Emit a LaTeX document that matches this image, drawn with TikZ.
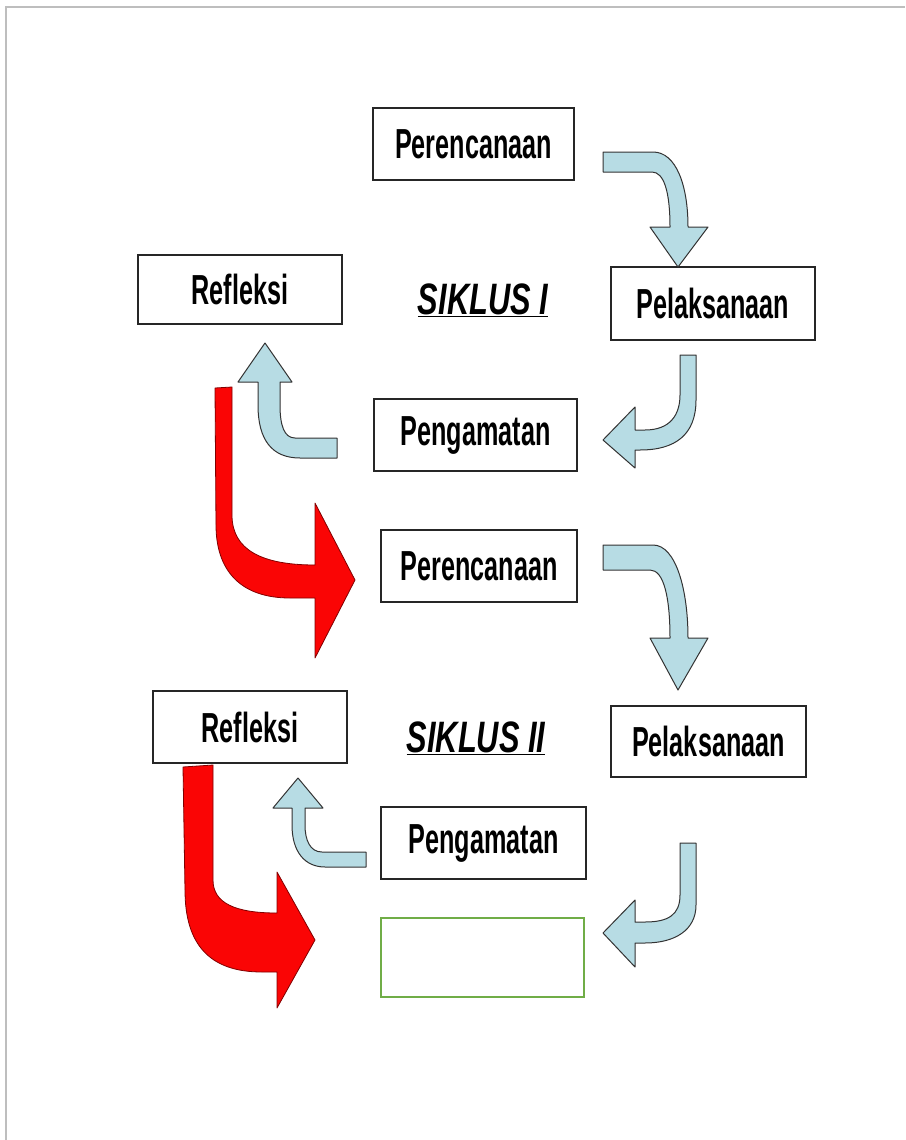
\documentclass[tikz,border=0pt]{standalone}
\usepackage{fontspec}
\newfontfamily\boxfont[FakeStretch=0.6]{Liberation Sans Bold}
\newfontfamily\sikfont[FakeStretch=0.7]{Liberation Sans Bold Italic}
\definecolor{lblue}{RGB}{183,220,228}
\definecolor{arrred}{RGB}{250,5,5}
\definecolor{gframe}{RGB}{190,190,190}
\definecolor{gbox}{RGB}{112,173,71}
\begin{document}
\begin{tikzpicture}[x=1pt,y=-1pt,
  stagebox/.style={draw=black!85, line width=1.8pt, fill=white, inner sep=0pt,
    font=\boxfont\fontsize{42}{48}\selectfont},
  siklus/.style={font=\sikfont\fontsize{44}{50}\selectfont, inner sep=0pt},
  barrow/.style={fill=lblue, draw=black!80, line width=1pt, line join=round},
  rarrow/.style={fill=arrred, draw=red!50!black, line width=0.8pt, line join=round}]
\useasboundingbox (0,0) rectangle (905,1140);
\draw[gframe, line width=1.5pt] (6,1140) -- (6,7) -- (905,7);

% boxes
\node[stagebox, minimum width=201pt, minimum height=72pt] (p1) at (473.5,144) {Perencanaan};
\node[stagebox, minimum width=204pt, minimum height=69pt] (r1) at (240,289.5) {Refleksi};
\node[stagebox, minimum width=204pt, minimum height=73pt] (l1) at (713,303.5) {Pelaksanaan};
\node[stagebox, minimum width=203pt, minimum height=72pt] (g1) at (475.5,435) {Pengamatan};
\node[stagebox, minimum width=196pt, minimum height=72pt] (p2) at (479,566) {Perencanaan};
\node[stagebox, minimum width=194pt, minimum height=72pt] (r2) at (250,727) {Refleksi};
\node[stagebox, minimum width=195pt, minimum height=71pt] (l2) at (708.5,741.5) {Pelaksanaan};
\node[stagebox, minimum width=205pt, minimum height=72pt] (g2) at (483.5,843) {Pengamatan};
\node[draw=gbox, line width=1.6pt, minimum width=203pt, minimum height=79pt] (nb) at (482.5,957.5) {};

\node[siklus] (s1) at (483,300) {\underline{SIKLUS I}};
\node[siklus] (s2) at (476,738) {\underline{SIKLUS II}};

% blue arrows
\draw[barrow] (603,152) -- (653,152) .. controls (676,152) and (688,185) .. (688,227)
  -- (708,227) -- (678,267) -- (650,227) -- (670,227)
  .. controls (670,192) and (664,172) .. (652,172) -- (603,172) -- cycle;
\draw[barrow] (680,355) -- (696,355) -- (696,400) .. controls (696,435) and (675,450) .. (640,450)
  -- (635,450) -- (635,468) -- (603,440) -- (635,407) -- (635,430) -- (645,430)
  .. controls (670,430) and (680,415) .. (680,395) -- cycle;
\draw[barrow] (337,438) -- (295,438) .. controls (284,438) and (280,425) .. (280,405)
  -- (280,382) -- (292,382) -- (265,343) -- (238,382) -- (258,382) -- (258,405)
  .. controls (258,440) and (272,458) .. (300,458) -- (337,458) -- cycle;
\draw[barrow] (603,545) -- (653,545) .. controls (676,545) and (688,590) .. (688,638)
  -- (708,638) -- (678,690) -- (650,638) -- (670,638)
  .. controls (670,598) and (664,570) .. (650,570) -- (603,570) -- cycle;
\draw[barrow] (680,843) -- (696,843) -- (696,905) .. controls (696,930) and (675,943) .. (645,943)
  -- (635,943) -- (635,967) -- (603,933) -- (635,900) -- (635,922) -- (645,922)
  .. controls (668,922) and (680,915) .. (680,895) -- cycle;
\draw[barrow] (366,852) -- (322,852) .. controls (310,852) and (305,840) .. (305,825)
  -- (305,808) -- (323,808) -- (298,778) -- (273,808) -- (292,808) -- (292,825)
  .. controls (292,852) and (305,867) .. (325,867) -- (366,867) -- cycle;

% red arrows
\draw[rarrow] (215,388) -- (232,387) -- (232,515) .. controls (232,550) and (262,565) .. (315,565)
  -- (315,503) -- (355,580) -- (315,658) -- (315,598) -- (290,598)
  .. controls (240,598) and (216,570) .. (216,525) -- cycle;
\draw[rarrow] (183,767) -- (213,765) -- (213,880) .. controls (213,903) and (235,913) .. (277,913)
  -- (277,872) -- (315,940) -- (277,1008) -- (277,972) -- (262,972)
  .. controls (210,972) and (185,945) .. (185,890) -- cycle;
\end{tikzpicture}
\end{document}
